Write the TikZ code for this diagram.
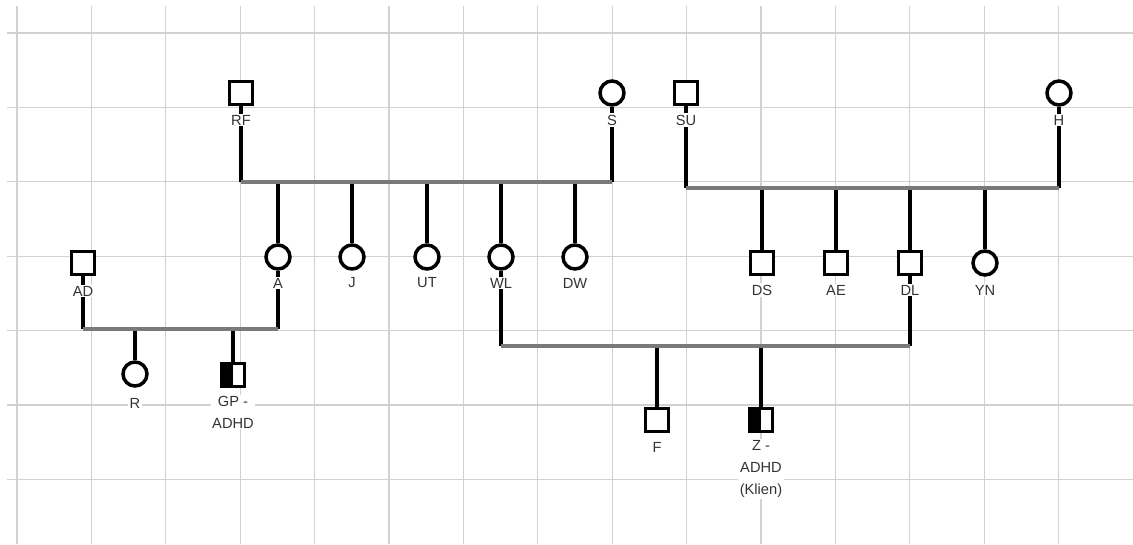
\documentclass[tikz,border=0pt]{standalone}
\usepackage{fontspec}
\setmainfont{Liberation Sans}
\begin{document}
\begin{tikzpicture}[x=0.75pt,y=-0.75pt,
  male/.style={draw,rectangle,line width=2.6pt,minimum size=17pt,inner sep=0pt,fill=white},
  female/.style={draw,circle,line width=2.6pt,minimum size=18pt,inner sep=0pt,fill=white},
  carrier/.style={male,path picture={\fill[black] (path picture bounding box.south west) rectangle (path picture bounding box.north);}},
  tag/.style={fill=white,inner sep=1pt,text=black!80,font=\fontsize{11}{16.5}\selectfont,align=center},
  kin/.style={line width=2.6pt},
  couple/.style={line width=3pt,draw=black!52},
  gridline/.style={line width=0.9pt,draw=black!18}]
\useasboundingbox (0,0) rectangle (1133,544);

% grid
\foreach \i in {0,...,14}
  \draw[gridline] ({17+74.4*\i},6) -- ({17+74.4*\i},544);
\foreach \j in {0,...,6}
  \draw[gridline] (7,{33+74.4*\j}) -- (1133,{33+74.4*\j});

% grandparents
\node[male] (rf) at (241,93) {};
\node[female] (s) at (612,93) {};
\node[male] (su) at (686,93) {};
\node[female] (h) at (1059,93) {};

% children
\node[female] (a) at (278,257) {};
\node[female] (j) at (352,257) {};
\node[female] (ut) at (427,257) {};
\node[female] (wl) at (501,257) {};
\node[female] (dw) at (575,257) {};
\node[male] (ds) at (762,263) {};
\node[male] (ae) at (836,263) {};
\node[male] (dl) at (910,263) {};
\node[female] (yn) at (985,263) {};
\node[male] (ad) at (83,263) {};

% grandchildren
\node[female] (r) at (135,374) {};
\node[carrier] (gp) at (233,375) {};
\node[male] (f) at (657,420) {};
\node[carrier] (z) at (761,420) {};

% marriage levels
\coordinate (m1) at (0,182);
\coordinate (m2) at (0,188);
\coordinate (m3) at (0,329);
\coordinate (m4) at (0,346);

\draw[kin] (rf.south) -- (rf |- m1);
\draw[kin] (s.south) -- (s |- m1);
\draw[kin] (su.south) -- (su |- m2);
\draw[kin] (h.south) -- (h |- m2);
\draw[kin] (ad.south) -- (ad |- m3);
\draw[kin] (a.south) -- (a |- m3);
\draw[kin] (wl.south) -- (wl |- m4);
\draw[kin] (dl.south) -- (dl |- m4);
\foreach \c in {a,j,ut,wl,dw}
  \draw[kin] (\c |- m1) -- (\c.north);
\foreach \c in {ds,ae,dl,yn}
  \draw[kin] (\c |- m2) -- (\c.north);
\foreach \c in {r,gp}
  \draw[kin] (\c |- m3) -- (\c.north);
\foreach \c in {f,z}
  \draw[kin] (\c |- m4) -- (\c.north);

\draw[couple] (rf |- m1) -- (s |- m1);
\draw[couple] (su |- m2) -- (h |- m2);
\draw[couple] (ad |- m3) -- (a |- m3);
\draw[couple] (wl |- m4) -- (dl |- m4);

% names
\node[tag] (lrf) at (241,120) {RF};
\node[tag] (ls) at (612,120) {S};
\node[tag] (lsu) at (686,120) {SU};
\node[tag] (lh) at (1059,120) {H};
\node[tag] (la) at (278,283) {A};
\node[tag] (lj) at (352,283) {J};
\node[tag] (lut) at (427,283) {UT};
\node[tag] (lwl) at (501,283) {WL};
\node[tag] (ldw) at (575,283) {DW};
\node[tag] (lds) at (762,290) {DS};
\node[tag] (lae) at (836,290) {AE};
\node[tag] (ldl) at (910,290) {DL};
\node[tag] (lyn) at (985,290) {YN};
\node[tag] (lad) at (83,291) {AD};
\node[tag] (lr) at (135,403) {R};
\node[tag] (lgp) at (233,412) {GP -\\ADHD};
\node[tag] (lf) at (657,447) {F};
\node[tag] (lz) at (761,469) {Z -\\ADHD\\(Klien)};
\end{tikzpicture}
\end{document}
